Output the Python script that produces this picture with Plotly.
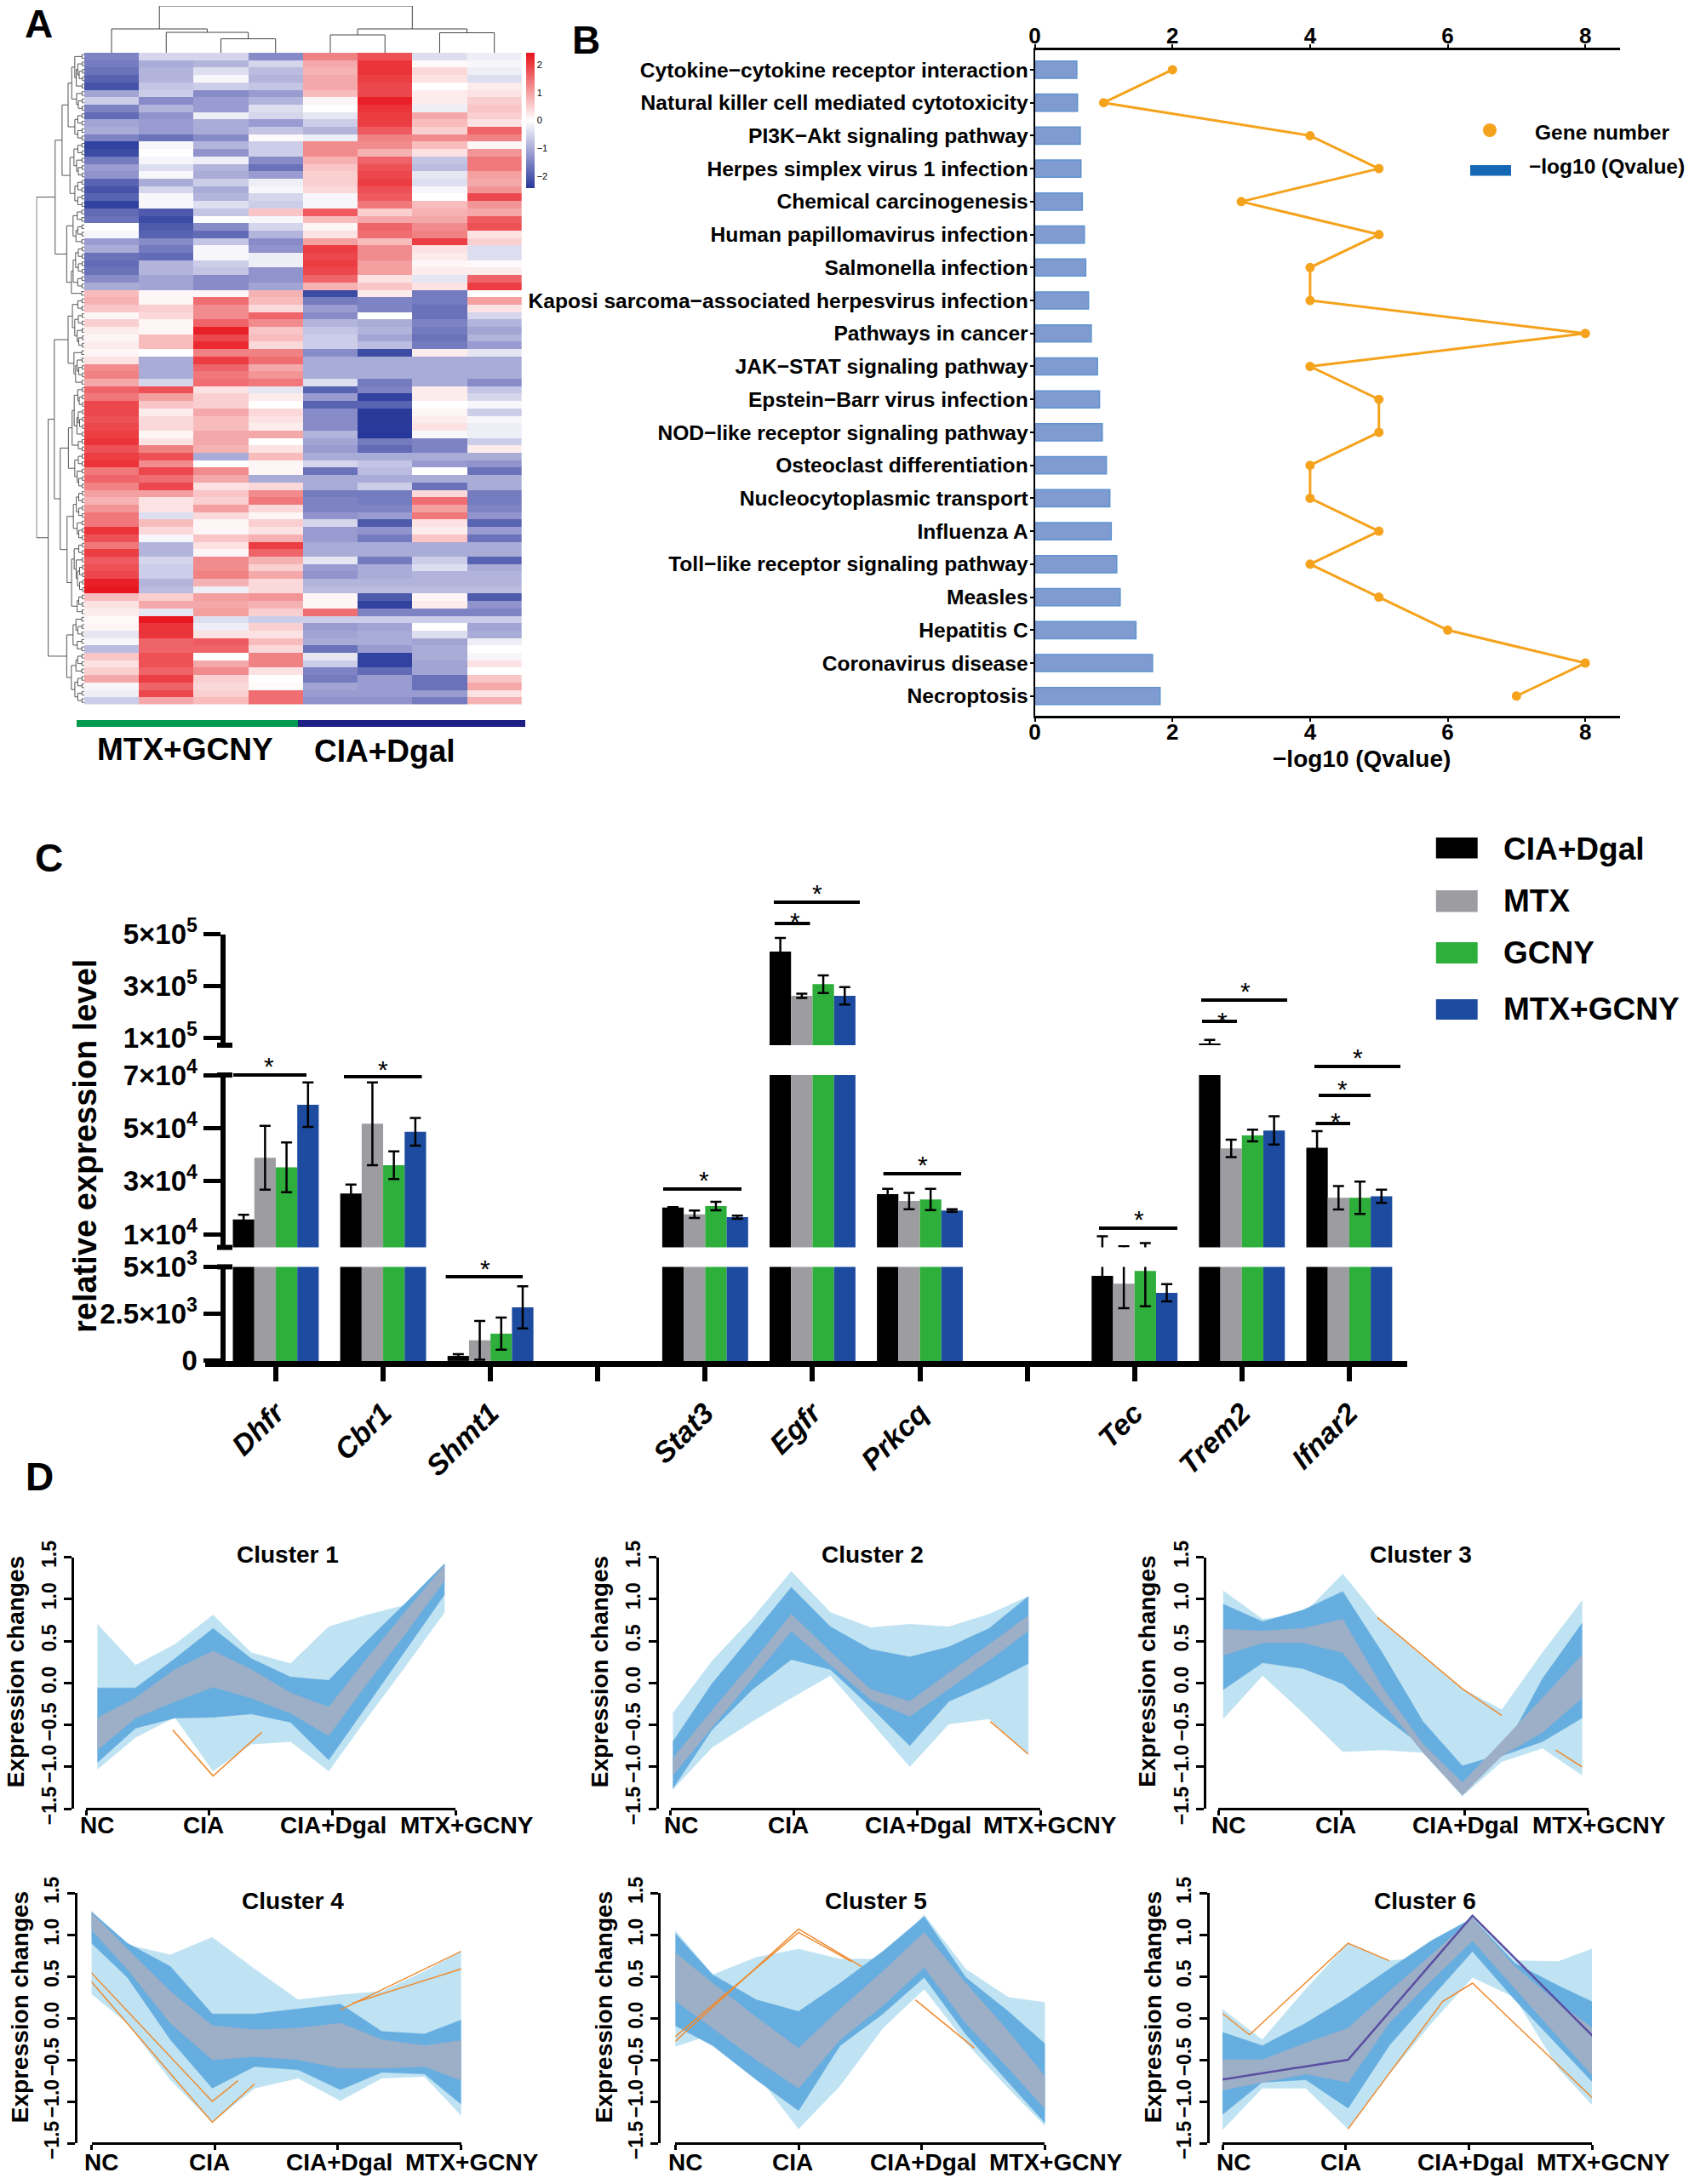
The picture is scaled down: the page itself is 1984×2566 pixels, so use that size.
import numpy as np
import plotly.graph_objects as go

W, H = 1984, 2566
FONT = "Liberation Sans"

# ---------- Panel A ----------
heat_values = [
[-1.5,-.5,-.5,-1.4,1.3,1.8,-.4,-.2],[-1.6,-1.0,-.9,-.5,.9,2.1,.05,-.1],[-1.7,-.9,-.4,-.8,.8,2.1,.4,-.2],
[-1.9,-.9,-.1,-.9,.9,2.0,.3,-.4],[-2.1,-.7,-.6,-.7,.9,1.9,0,.2],[-1.1,-.6,-1.4,-1.2,.7,1.9,.2,.3],
[-.6,-1.4,-1.2,-.9,.1,2.3,.2,.5],[-1.5,-.9,-1.2,-.4,0,2.1,-.2,.6],[-1.8,-1.3,-.2,-.5,-.3,2.0,.9,.5],
[-1.1,-1.2,-1.0,-1.2,-.6,2.0,.7,.3],[-1.0,-1.2,-1.0,-.7,-.9,1.7,.5,1.6],[-1.5,-1.7,-1.4,.05,-.2,1.3,1.2,1.3],
[-2.3,-.1,-.9,-.6,1.2,1.2,.7,.1],[-2.2,0,-1.3,-.6,1.2,.8,.3,1.1],[-1.6,-.1,-.2,-1.4,.8,1.6,-.7,1.4],
[-1.2,-.4,-.9,-1.7,.6,1.8,-.8,1.4],[-1.3,-.1,-1.0,-1.2,.5,1.9,-.3,1.0],[-1.9,-1.0,-.6,-.2,.5,2.0,-.4,.9],
[-2.1,-.5,-1.0,-.1,.4,1.8,-.1,1.1],[-1.9,-.1,-.9,-.5,-.1,1.7,0,1.9],[-2.3,-.1,-.4,-.6,-.1,1.4,.7,1.1],
[-1.8,-2.0,-.7,.6,1.7,.5,.8,.9],[-1.7,-2.2,0,-.1,.7,.9,.9,1.7],[0,-2.0,-1.4,-.5,.1,1.6,1.2,1.8],
[-.1,-1.9,-1.8,-.9,.3,1.5,1.3,.3],[-1.2,-1.4,-.7,-1.4,1.0,.7,2.0,.5],[-1.0,-1.6,-.1,-1.3,2.0,1.2,.3,-.4],
[-1.7,-1.8,-.1,-.2,1.9,1.2,.2,-.4],[-1.8,-.9,-.6,-.2,2.0,1.0,.1,.05],[-1.7,-.9,-.7,-1.3,1.9,1.0,.2,.2],
[-1.4,-1.1,-1.4,-1.3,1.6,.3,-.3,1.6],[-1.0,-1.1,-1.4,-1.1,.8,.6,.3,2.0],[.7,.1,.1,.8,-2.2,.2,-1.6,0],
[.8,.1,1.5,.7,-1.6,-1.5,-1.6,1.0],[.6,.5,1.2,.4,-1.2,-1.5,-1.7,.3],[.1,.4,1.2,1.6,-1.4,0,-1.7,-.5],
[.5,.1,1.6,1.2,-.9,-1.0,-1.5,-.9],[.2,.1,2.3,.6,-.7,-.9,-1.6,-1.1],[.1,.7,1.9,.7,-.6,-1.1,-1.7,-.9],
[.2,.7,2.2,.4,-.6,-.8,-1.6,-1.2],[.1,0,1.3,1.3,-1.4,-2.2,.2,-.3],[.3,-1.0,2.0,1.5,-1.0,-1.0,-1.0,-1.0],
[1.2,-1.0,1.6,.9,-1.0,-1.0,-1.0,-1.0],[1.3,-1.0,1.4,1.1,-1.0,-1.0,-1.0,-1.0],[.9,-.5,1.5,1.4,-.4,-1.6,-1.0,-1.4],
[1.6,1.8,.3,-.3,-1.9,-1.5,.2,-.7],[1.4,1.0,.5,.2,-1.2,-2.3,.2,-.5],[1.9,.6,.5,0,-1.9,-1.9,0,-.1],
[1.9,.2,.9,.4,-1.4,-2.4,.1,-.6],[1.8,.4,.7,.3,-1.4,-2.4,.2,-.1],[1.9,.4,.7,.2,-1.4,-2.4,.3,-.2],
[2.0,.1,.9,.9,-.9,-2.5,-.1,-.2],[2.1,.3,.9,0,-1.1,-1.6,-1.5,-.6],[1.8,1.3,.8,.3,-1.2,-1.8,-1.5,.2],
[2.0,1.8,-1.0,.7,-1.0,-1.0,-1.0,-1.0],[2.1,1.2,0,.1,-.5,-.7,-1.2,-1.3],[1.4,1.9,1.2,.1,-1.7,-.8,0,-1.7],
[1.6,1.5,.9,-1.0,-1.0,-1.0,-1.0,-1.0],[1.3,1.9,.3,.4,-1.0,-.6,-1.7,-1.0],[1.0,1.0,.6,1.2,-1.6,-1.6,.4,-1.6],
[.8,.3,.5,1.4,-1.5,-1.6,1.5,-1.6],[1.1,.3,1.0,.4,-1.5,-1.5,1.0,-1.5],[1.4,-.4,.4,.1,-1.3,-1.2,1.4,-1.3],
[1.4,.7,.1,.5,-.5,-2.0,.3,-1.9],[2.1,.4,.1,.3,-1.2,-1.3,.2,-1.2],[1.8,-.1,.6,.8,-1.2,-1.6,.6,-1.7],
[1.4,-.9,.3,2.0,-1.0,-1.0,-1.0,-1.0],[2.0,-.9,.1,1.6,-1.0,-1.0,-1.0,-1.0],[1.7,-.5,1.2,.8,-.3,-1.6,-.6,-1.9],
[1.8,-.6,1.2,.5,-1.2,-1.0,-.4,-1.0],[1.9,-.6,1.3,.9,-1.3,-1.0,-.9,-.9],[2.3,-.9,.8,.4,-.9,-.9,-.9,-.9],
[2.4,-.8,-.2,.4,-.8,-.8,-.8,-.8],[.7,.5,1.0,1.1,.1,-2.0,.1,-2.0],[.3,.9,.9,.8,.1,-2.3,.2,-1.3],
[.2,-.3,1.0,.5,1.5,-1.5,-1.5,-1.5],[.05,2.4,-.4,-.6,-.6,-.6,-.6,-.6],[.1,2.1,-.2,.5,-1.2,-1.1,.02,-1.1],
[-.3,2.1,.3,.3,-1.1,-1.0,-.4,-1.0],[-.1,1.6,1.7,.7,-1.0,-1.0,-1.1,-.2],[-.8,1.6,1.6,.4,-1.7,-1.2,-1.0,.0],
[.6,1.8,0,1.3,-.3,-2.3,-1.0,-.1],[.3,1.8,.9,1.3,-.6,-2.3,-1.1,.3],[.5,1.6,1.2,.3,-1.5,-1.8,-1.1,0],
[.9,2.0,.5,0,-1.6,-1.2,-1.7,.6],[-.1,1.6,.4,.05,-1.1,-1.2,-1.7,.9],[-.2,1.9,.5,1.5,-1.2,-1.2,-1.2,.3],
[-.6,.9,.7,1.5,-1.3,-1.3,-1.6,.8],
]
col_merges = [(2, 3, 16.4), (1, 2.5, 24), (0, 1.75, 28), (4, 5, 21), (6, 7, 23.5), (4.5, 6.5, 28), (.875, 5.5, 55)]

# ---------- Panel B ----------
pathways = ["Cytokine−cytokine receptor interaction", "Natural killer cell mediated cytotoxicity",
            "PI3K−Akt signaling pathway", "Herpes simplex virus 1 infection", "Chemical carcinogenesis",
            "Human papillomavirus infection", "Salmonella infection", "Kaposi sarcoma−associated herpesvirus infection",
            "Pathways in cancer", "JAK−STAT signaling pathway", "Epstein−Barr virus infection",
            "NOD−like receptor signaling pathway", "Osteoclast differentiation", "Nucleocytoplasmic transport",
            "Influenza A", "Toll−like receptor signaling pathway", "Measles", "Hepatitis C", "Coronavirus disease",
            "Necroptosis"]
qvalue = [.61, .62, .66, .67, .69, .72, .74, .78, .82, .91, .94, .98, 1.04, 1.09, 1.11, 1.19, 1.24, 1.47, 1.71, 1.82]
gene_number = [2, 1, 4, 5, 3, 5, 4, 4, 8, 4, 5, 5, 4, 4, 5, 4, 5, 6, 8, 7]

# ---------- Panel C ----------
genes = ["Dhfr", "Cbr1", "Shmt1", "", "Stat3", "Egfr", "Prkcq", "", "Tec", "Trem2", "Ifnar2"]
cia_dgal = [15500, 25300, 263, None, 20000, 433000, 25100, None, 4518, 77700, 42600]
cia_dgal_err = [1800, 3400, 90, None, 200, 53000, 2000, None, 4700, 14000, 6200]
mtx = [38800, 51600, 1096, None, 17500, 262000, 22500, None, 4100, 42300, 23700]
mtx_err = [12000, 15600, 1031, None, 1400, 8000, 3100, None, 1300, 3300, 4400]
gcny = [35200, 36000, 1447, None, 20600, 307000, 23100, None, 4780, 47200, 23700]
gcny_err = [9400, 5200, 856, None, 1600, 34000, 4000, None, 1880, 2200, 6100]
mtx_gcny = [58800, 48600, 2850, None, 16400, 262000, 18900, None, 3620, 49100, 24300]
mtx_gcny_err = [8400, 5200, 1120, None, 600, 34000, 500, None, 460, 5300, 2500]
bar_series = [("CIA+Dgal", cia_dgal, cia_dgal_err, "#000000"), ("MTX", mtx, mtx_err, "#9d9ca1"),
              ("GCNY", gcny, gcny_err, "#2eae3a"), ("MTX+GCNY", mtx_gcny, mtx_gcny_err, "#1c4b9f")]
sig_bars = [(274, 360, 1263, 316, 1246), (404, 495.5, 1265, 450, 1250), (523.6, 614, 1500, 570, 1484),
            (779, 871, 1397, 826.5, 1381), (909, 1010, 1060, 960, 1043), (910, 951.5, 1085, 934, 1076),
            (1037.7, 1129, 1379, 1084, 1362), (1291, 1383, 1443, 1338, 1426), (1411, 1512, 1175, 1463, 1159),
            (1412, 1453, 1200, 1436, 1193), (1544, 1645, 1253, 1595, 1236), (1549, 1610, 1287, 1577, 1273),
            (1545.5, 1586, 1320, 1569, 1311)]

# ---------- Panel D ----------
stages = ["NC", "CIA", "CIA+Dgal", "MTX+GCNY"]
band_t = [0, .33, .67, 1, 1.33, 1.67, 2, 2.33, 2.67, 3]
c1_light_up = [.70, .21, .46, .81, .36, .23, .67, .81, .93, 1.42]
c1_light_lo = [-1.03, -.65, -.41, -1.05, -.73, -.70, -1.05, -.42, .21, .84]
c1_mid_up = [-.06, -.06, .29, .65, .29, .07, .03, .50, .96, 1.42]
c1_mid_lo = [-.95, -.54, -.42, -.41, -.37, -.47, -.92, -.27, .40, 1.05]
c1_gray_up = [-.42, -.18, .16, .38, .16, -.12, -.29, .29, .86, 1.40]
c1_gray_lo = [-.80, -.42, -.22, -.05, -.18, -.36, -.63, -.01, .60, 1.22]
c2_light_up = [-.36, .26, .77, 1.33, .84, .66, .70, .67, .82, 1.03]
c2_light_lo = [-1.27, -.77, -.46, -.18, .09, -.46, -1.0, -.49, -.43, -.85]
c2_mid_up = [-.70, -.01, .57, 1.14, .67, .40, .31, .43, .65, 1.03]
c2_mid_lo = [-1.26, -.56, -.08, .28, .16, -.29, -.75, -.22, -.01, .23]
c2_gray_up = [-.90, -.33, .24, .82, .37, -.08, -.22, .12, .46, .80]
c2_gray_lo = [-1.10, -.53, .05, .62, .22, -.20, -.40, -.07, .27, .62]
c3_light_up = [1.10, .76, .82, 1.30, .72, .31, -.07, -.32, .36, .98]
c3_light_lo = [-.43, .09, -.36, -.82, -.80, -.83, -1.35, -.94, -.78, -1.10]
c3_mid_up = [.94, .73, .87, 1.09, .36, -.46, -.99, -.85, .05, .71]
c3_mid_lo = [-.08, .24, .17, -.01, -.39, -.76, -1.24, -.87, -.70, -.42]
c3_gray_up = [.64, .62, .65, .76, -.05, -.73, -1.19, -.70, -.18, .33]
c3_gray_lo = [.33, .48, .48, .36, -.22, -.83, -1.34, -.87, -.59, -.18]
c4_light_up = [1.35, .88, .76, .97, .59, .22, .28, .32, .56, .83]
c4_light_lo = [.35, -.06, -.74, -1.25, -.84, -.72, -.99, -.72, -.70, -1.23]
c4_mid_up = [1.34, .90, .62, .05, .05, .11, .17, -.16, -.19, 0]
c4_mid_lo = [.97, .49, -.26, -.84, -.58, -.62, -.86, -.65, -.67, -1.08]
c4_gray_up = [1.34, .83, .32, -.09, -.14, -.12, -.06, -.26, -.33, -.26]
c4_gray_lo = [1.14, .59, -.06, -.50, -.46, -.50, -.60, -.60, -.58, -.77]
c5_light_up = [1.12, .52, .73, .83, .71, .71, 1.24, .59, .25, .18]
c5_light_lo = [-.36, -.19, -.67, -1.33, -.81, -.12, .35, -.29, -.84, -1.35]
c5_mid_up = [1.08, .52, .22, .08, .42, .80, 1.22, .49, .08, -.36]
c5_mid_lo = [-.06, -.33, -.74, -1.11, -.33, .05, .49, -.19, -.77, -1.32]
c5_gray_up = [.83, .42, .01, -.36, .11, .56, 1.03, .42, -.16, -.77]
c5_gray_lo = [.25, -.12, -.50, -.84, -.26, .15, .61, -.06, -.60, -1.15]
c6_light_up = [.13, -.26, .35, .90, .69, .73, 1.24, .69, .68, .87]
c6_light_lo = [-1.37, -.84, -.84, -1.33, -.67, -.06, .49, .25, -.60, -1.15]
c6_mid_up = [-.16, -.33, -.06, .25, .59, .93, 1.20, .66, .39, .15]
c6_mid_lo = [-1.18, -.77, -.74, -1.08, -.33, .25, .80, .22, -.33, -.87]
c6_gray_up = [-.50, -.50, -.30, -.12, .32, .76, 1.20, .62, .18, -.19]
c6_gray_lo = [-.87, -.77, -.67, -.77, -.06, .45, .93, .35, -.23, -.80]
c6_core_t = [0, 1, 2, 3]
c6_core = [-.74, -.50, 1.23, -.31]

orange_lines = {
    1: [([.65, 1, 1.42], [-.56, -1.11, -.59])],
    2: [([2.68, 3], [-.46, -.85])],
    3: [([1.29, 2, 2.33], [.78, -.07, -.39]), ([2.78, 3], [-.80, -1.0])],
    4: [([0, 1, 1.33], [.52, -1.25, -.79]), ([0, 1, 1.2], [.62, -1.0, -.75]), ([2, 3], [.10, .83]), ([2.1, 3], [.18, .61])],
    5: [([0, 1, 1.5], [-.33, 1.07, .62]), ([0, 1, 1.42], [-.27, 1.03, .68]), ([1.93, 2.4], [.22, -.36])],
    6: [([0, .23], [.08, -.2]), ([.23, 1, 1.33], [-.2, .9, .69]), ([1, 1.76, 2, 3], [-1.33, .2, .42, -1.05])],
}
clusters = [
    dict(name="Cluster 1", row=0, axis_x=85.4, ticks=(101.4, 535), nodes=[.09, 1.03, 1.97, 2.91], label_x=[113.6, 239, 391, 548], title_x=338, ytitle_x=18,
         bands=(c1_light_up, c1_light_lo, c1_mid_up, c1_mid_lo, c1_gray_up, c1_gray_lo)),
    dict(name="Cluster 2", row=0, axis_x=771.5, ticks=(787.5, 1222.3), nodes=[.02, .98, 1.94, 2.90], label_x=[800, 926, 1078, 1233], title_x=1025, ytitle_x=704,
         bands=(c2_light_up, c2_light_lo, c2_mid_up, c2_mid_lo, c2_gray_up, c2_gray_lo)),
    dict(name="Cluster 3", row=0, axis_x=1415, ticks=(1431, 1865.5), nodes=[.04, 1.01, 1.98, 2.95], label_x=[1443, 1569, 1721.5, 1878], title_x=1668.6, ytitle_x=1347.5,
         bands=(c3_light_up, c3_light_lo, c3_mid_up, c3_mid_lo, c3_gray_up, c3_gray_lo)),
    dict(name="Cluster 4", row=1, axis_x=88.6, ticks=(107.6, 541.6), nodes=[-.05, .98, 2.02, 3.04], label_x=[119, 245.5, 398.6, 554], title_x=344, ytitle_x=23,
         bands=(c4_light_up, c4_light_lo, c4_mid_up, c4_mid_lo, c4_gray_up, c4_gray_lo)),
    dict(name="Cluster 5", row=1, axis_x=774.4, ticks=(793.4, 1227.4), nodes=[-.04, 1.0, 2.02, 3.04], label_x=[805, 931, 1084, 1240], title_x=1029, ytitle_x=709,
         bands=(c5_light_up, c5_light_lo, c5_mid_up, c5_mid_lo, c5_gray_up, c5_gray_lo)),
    dict(name="Cluster 6", row=1, axis_x=1418.5, ticks=(1436, 1870), nodes=[-.02, 1.02, 2.03, 3.07], label_x=[1449, 1575, 1727, 1883], title_x=1674, ytitle_x=1354,
         bands=(c6_light_up, c6_light_lo, c6_mid_up, c6_mid_lo, c6_gray_up, c6_gray_lo)),
]
row_geom = [dict(top=1829.5, bottom=2125, label_y=2144, title_y=1826), dict(top=2224.3, bottom=2518, label_y=2540, title_y=2233)]


def xd(px):
    return px / W


def yd(py):
    return 1 - py / H


def xdom(a, b):
    return [xd(a), xd(b)]


def ydom(top, bottom):
    return [yd(bottom), yd(top)]


fig = go.Figure()
ann = []
shapes = []


def text(s, x, y, size, bold=True, angle=0, xanchor="center", italic=False, color="#000"):
    ann.append(dict(text=s, x=xd(x), y=yd(y), xref="paper", yref="paper", showarrow=False, textangle=angle,
                    xanchor=xanchor, yanchor="middle", align="center",
                    font=dict(family=FONT, size=size, color=color, weight=700 if bold else 400,
                              style="italic" if italic else "normal")))


def rect(x0, y0, x1, y1, color):
    shapes.append(dict(type="rect", xref="paper", yref="paper", x0=xd(x0), x1=xd(x1), y0=yd(y0), y1=yd(y1),
                       fillcolor=color, line=dict(width=0)))


layout = dict(template="none", width=W, height=H, margin=dict(l=0, r=0, t=0, b=0, pad=0), paper_bgcolor="white", plot_bgcolor="rgba(0,0,0,0)",
              showlegend=False, font=dict(family=FONT, color="#000"), barmode="group", bargap=.2, bargroupgap=0)
HID = dict(visible=False, showgrid=False, zeroline=False, automargin=False)

# --- A: heatmap
Z = np.array(heat_values, dtype=float)
nrows = len(heat_values)
fig.add_trace(go.Heatmap(z=heat_values, x=list(range(8)), y=list(range(nrows)), zmin=-2.43, zmax=2.43, xaxis="x", yaxis="y",
                         colorscale=[[0, "#26389a"], [.25, "#989ad0"], [.5, "#ffffff"], [.75, "#f28a8c"], [1, "#e8131b"]],
                         xgap=0, ygap=0,
                         colorbar=dict(x=xd(618), xanchor="left", y=yd(62), yanchor="top", thickness=10, thicknessmode="pixels",
                                       len=158.6, lenmode="pixels", outlinewidth=0, tickvals=[-2, -1, 0, 1, 2],
                                       ticks="", ticklabelposition="outside", tickfont=dict(size=11, family=FONT), xpad=0, ypad=0)))
layout["xaxis"] = dict(HID, domain=xdom(98.9, 612.8), range=[-.5, 7.5])
layout["yaxis"] = dict(HID, domain=ydom(62, 827.5), range=[nrows - .5, -.5])

# top dendrogram
dx_pts, dy_pts = [], []
pos_h = {}
for a, b, h in col_merges:
    ha, hb = pos_h.get(a, 0), pos_h.get(b, 0)
    dx_pts += [a, a, b, b, None]
    dy_pts += [ha, h, h, hb, None]
    pos_h[(a + b) / 2] = h
fig.add_trace(go.Scatter(x=dx_pts, y=dy_pts, mode="lines", line=dict(color="#444", width=1), xaxis="x2", yaxis="y2", hoverinfo="skip"))
layout["xaxis2"] = dict(HID, domain=xdom(98.9, 612.8), range=[-.5, 7.5], anchor="y2")
layout["yaxis2"] = dict(HID, domain=ydom(7, 62), range=[0, 55], anchor="x2")

# row dendrogram derived from the heatmap's own rows
rx, ry = [], []


def build(lo, hi, h, force=None):
    if lo == hi:
        fork = h * .5
        rx.extend([0, fork, fork, 0, None])
        ry.extend([lo - .25, lo - .25, lo + .25, lo + .25, None])
        return lo, fork
    size = hi - lo + 1
    if force is not None:
        k = force
    else:
        best, k = -1, lo
        for i in range(lo, hi):
            d = np.linalg.norm(Z[i] - Z[i + 1]) * (min(i - lo + 1, hi - i) / size) ** .5
            if d > best:
                best, k = d, i
    lsz, rsz = k - lo + 1, hi - k
    f = lambda s: max(1.6, h * (s / size) ** .42 * .92)
    p1, h1 = build(lo, k, f(lsz))
    p2, h2 = build(k + 1, hi, f(rsz))
    rx.extend([h1, h, h, h2, None])
    ry.extend([p1, p1, p2, p2, None])
    return (p1 + p2) / 2, h


build(0, nrows - 1, 56, force=32)
fig.add_trace(go.Scatter(x=rx, y=ry, mode="lines", line=dict(color="#555", width=1), xaxis="x3", yaxis="y3", hoverinfo="skip"))
layout["xaxis3"] = dict(HID, domain=xdom(42.5, 98.9), range=[56.4, 0], anchor="y3")
layout["yaxis3"] = dict(HID, domain=ydom(62, 827.5), range=[nrows - .5, -.5], anchor="x3")

rect(90, 846, 355.6, 854, "#009a4e")
rect(350, 846, 617, 854, "#1c1f84")
text("MTX+GCNY", 217, 880, 37)
text("CIA+Dgal", 452, 883, 37)
text("A", 45, 28, 46)
text("B", 688, 47, 46)
text("C", 57, 1008, 46)
text("D", 46, 1735, 46)

# --- B
fig.add_trace(go.Bar(y=pathways, x=qvalue, orientation="h", width=.52, xaxis="x4", yaxis="y4", name="−log10 (Qvalue)",
                     marker=dict(color="#7f9bd0", line=dict(color="#5f93cf", width=1.5))))
fig.add_trace(go.Scatter(y=pathways, x=gene_number, mode="lines+markers", xaxis="x5", yaxis="y4", name="Gene number",
                         line=dict(color="#f5a21c", width=3), marker=dict(color="#f5a21c", size=11)))
AX_B = dict(showgrid=False, zeroline=False, automargin=False, showline=True, linecolor="#000", linewidth=3, tickvals=[0, 2, 4, 6, 8],
            ticks="outside", ticklen=4, tickwidth=2, tickcolor="#000", ticklabelstandoff=-10, tickfont=dict(size=26, family=FONT, weight=700))
layout["xaxis4"] = dict(AX_B, domain=xdom(1215.6, 1902.6), range=[0, 8.5], anchor="y4", side="bottom")
layout["xaxis5"] = dict(AX_B, domain=xdom(1215.6, 1902.6), range=[0, 8.5], anchor="y4", side="top", overlaying="x4")
layout["yaxis4"] = dict(domain=ydom(58.7, 841), type="category", categoryorder="array", categoryarray=pathways, automargin=False,
                        range=[19.6, -.6], anchor="x4", showgrid=False, zeroline=False, showline=True, linecolor="#000", linewidth=2,
                        ticks="outside", ticklen=4, tickwidth=2, tickcolor="#000", ticklabelstandoff=-3, tickfont=dict(size=24.6, family=FONT, weight=700))
text("−log10 (Qvalue)", 1599, 891, 28)
fig.add_trace(go.Scatter(x=[xd(1750)], y=[yd(153)], mode="markers", marker=dict(color="#f5a21c", size=16), xaxis="x15", yaxis="y15", hoverinfo="skip"))
layout["xaxis15"] = dict(HID, domain=[0, 1], range=[0, 1], anchor="y15")
layout["yaxis15"] = dict(HID, domain=[0, 1], range=[0, 1], anchor="x15")
text("Gene number", 1801, 155.5, 24.5, xanchor="left")
rect(1727, 194, 1775, 206.6, "#1568b3")
text("−log10 (Qvalue)", 1794, 195.5, 24.5, xanchor="left")

# --- C: one x axis and three stacked y axes
for ax, rng in (("y6", [0, 5000]), ("y7", [5000, 70000]), ("y8", [71000, 500000])):
    for name, vals, errs, color in bar_series:
        shown = [None if v is None or v + e < rng[0] or v - e > rng[1] else e for v, e in zip(vals, errs)]
        fig.add_trace(go.Bar(x=list(range(len(genes))), y=vals, name=name, offsetgroup=name, xaxis="x6", yaxis=ax, marker=dict(color=color, line=dict(width=0)),
                             error_y=dict(type="data", array=shown, visible=True, color="#000", thickness=2.5, width=6.5), cliponaxis=True))
named_ticks = [i for i, g in enumerate(genes) if g]
blank_ticks = [i for i, g in enumerate(genes) if not g]
layout["xaxis6"] = dict(domain=xdom(241, 1653), range=[-.658, 10.54], anchor="y6", showgrid=False, zeroline=False, automargin=False, showline=True, linecolor="#000", linewidth=7,
                        tickvals=named_ticks, ticktext=[genes[i] for i in named_ticks], ticks="outside", ticklen=17, tickwidth=6, tickcolor="#000", tickangle=-45, ticklabelstandoff=4,
                        minor=dict(tickvals=blank_ticks, ticks="outside", ticklen=17, tickwidth=6, tickcolor="#000"),
                        tickfont=dict(size=34, family=FONT, weight=700, style="italic"))
AX_C = dict(anchor="free", position=xd(261.5), showgrid=False, zeroline=False, automargin=False, showline=True, linecolor="#000", linewidth=6, ticks="outside", ticklen=20, tickwidth=5, tickcolor="#000",
            tickfont=dict(size=33, family=FONT, weight=700))
layout["yaxis6"] = dict(AX_C, domain=ydom(1488.4, 1598.9), range=[0, 5000], tickvals=[0, 2500, 5000], ticktext=["0", "2.5×10<sup>3</sup>", "5×10<sup>3</sup>"])
layout["yaxis7"] = dict(AX_C, domain=ydom(1263, 1465.6), range=[5000, 70000], tickvals=[10000, 30000, 50000, 70000],
                        ticktext=["1×10<sup>4</sup>", "3×10<sup>4</sup>", "5×10<sup>4</sup>", "7×10<sup>4</sup>"])
layout["yaxis8"] = dict(AX_C, domain=ydom(1097.7, 1228), range=[71000, 500000], tickvals=[100000, 300000, 500000],
                        ticktext=["1×10<sup>5</sup>", "3×10<sup>5</sup>", "5×10<sup>5</sup>"])
for yy in (1228, 1263, 1465.6, 1488.4):
    rect(255, yy - 3, 273, yy + 3, "#000")
for x0, x1, y, sx, sy in sig_bars:
    rect(x0, y - 2, x1, y + 2, "#000")
    text("*", sx, sy + 6, 30, bold=False)
text("relative expression level", 100, 1347, 38, angle=-90)
legend_rows = [(984, 1008.5, 997), (1046, 1071.5, 1059), (1107, 1132, 1120), (1174, 1198, 1186)]
for (y0, y1, ty), (name, _, _, color) in zip(legend_rows, bar_series):
    rect(1686.8, y0, 1735.7, y1, color)
    text(name, 1764, ty, 37, xanchor="left")

# --- D
AXN = 9
for c in clusters:
    g = row_geom[c["row"]]
    xa, ya = f"x{AXN}", f"y{AXN}"
    nodes = c["nodes"]
    xs = list(np.interp(band_t, [0, 1, 2, 3], nodes))
    b = c["bands"]
    for up, lo, color in ((b[0], b[1], "#bfe3f2"), (b[2], b[3], "#67aee0"), (b[4], b[5], "#9dafc6")):
        fig.add_trace(go.Scatter(x=xs + xs[::-1], y=up + lo[::-1], mode="lines", fill="toself", fillcolor=color, line=dict(color=color, width=.5),
                                 xaxis=xa, yaxis=ya, cliponaxis=False, hoverinfo="skip"))
    for t, v in orange_lines[AXN - 8]:
        fig.add_trace(go.Scatter(x=list(np.interp(t, [0, 1, 2, 3], nodes)), y=v, mode="lines", line=dict(color="#ef8a2e", width=1.5),
                                 xaxis=xa, yaxis=ya, cliponaxis=False, hoverinfo="skip"))
    if AXN == 14:
        fig.add_trace(go.Scatter(x=list(np.interp(c6_core_t, [0, 1, 2, 3], nodes)), y=c6_core, mode="lines", line=dict(color="#5a4ea2", width=2.5),
                                 xaxis=xa, yaxis=ya, cliponaxis=False, hoverinfo="skip"))
    layout[f"xaxis{AXN}"] = dict(domain=xdom(*c["ticks"]), range=[0, 3], anchor="free", position=yd(g["bottom"]), showgrid=False, zeroline=False, automargin=False, showline=True,
                                 linecolor="#000", linewidth=3, tickvals=[0, 1, 2, 3], showticklabels=False, ticks="outside", ticklen=6, tickwidth=3, tickcolor="#000")
    layout[f"yaxis{AXN}"] = dict(domain=ydom(g["top"], g["bottom"]), range=[-1.5, 1.5], anchor="free", position=xd(c["axis_x"]), showgrid=False, zeroline=False, automargin=False, showline=True,
                                 linecolor="#000", linewidth=3, tickvals=[-1.5, -1, -.5, 0, .5, 1, 1.5], ticktext=["−1.5", "−1.0", "−0.5", "0.0", "0.5", "1.0", "1.5"],
                                 ticks="outside", ticklen=9, tickwidth=3, tickcolor="#000", tickangle=-90, tickfont=dict(size=23, family=FONT, weight=700))
    text(c["name"], c["title_x"], g["title_y"], 28)
    text("Expression changes", c["ytitle_x"], (g["top"] + g["bottom"]) / 2 - 13, 28, angle=-90)
    for s, lx in zip(stages, c["label_x"]):
        text(s, lx, g["label_y"], 28)
    AXN += 1

layout["annotations"] = ann
layout["shapes"] = shapes
fig.update_layout(**layout)
fig.write_html("out.html", config={"displayModeBar": False}, post_script="document.body.style.margin='0';document.body.style.overflow='hidden';")
